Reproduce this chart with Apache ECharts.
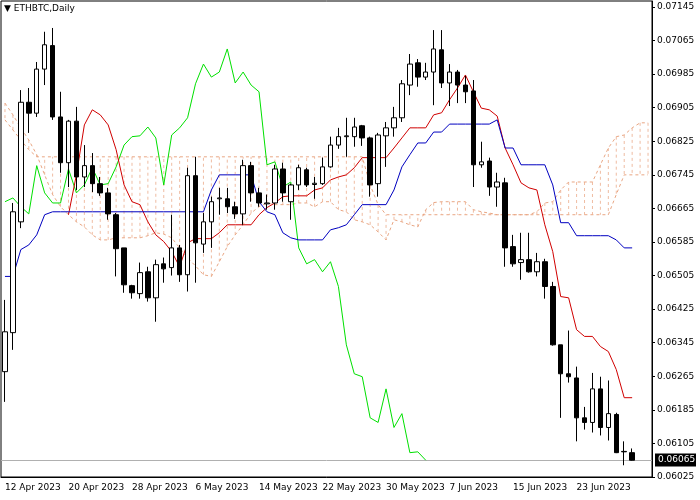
<!DOCTYPE html>
<html>
<head>
<meta charset="utf-8">
<script src="https://cdn.jsdelivr.net/npm/echarts@6/dist/echarts.min.js"></script>
<style>html,body{margin:0;padding:0;background:#fff}#chart{width:700px;height:500px}</style>
</head>
<body>
<div id="chart"></div>
<script>
// Prix en points (x 0.00001)
var opens = [6276,6369,6633,6918,6892,6997,7053,6883,6774,6873,6740,6767,6724,6702,6650,6571,6481,6462,6514,6452,
  6533,6524,6571,6507,6743,6580,6633,6688,6688,6669,6652,6767,6702,6676,6678,6759,6681,6721,6757,6722,
  6724,6764,6816,6836,6836,6862,6833,6724,6838,6857,6881,6959,7012,6978,6990,7043,6964,6990,6959,6945,
  6769,6778,6716,6726,6574,6536,6543,6514,6538,6479,6340,6271,6261,6166,6155,6235,6143,6174,6086,6083];
var closes = [6371,6657,6918,6892,6997,7055,6883,6774,6873,6740,6767,6724,6702,6652,6569,6483,6464,6512,6452,6531,
  6521,6571,6507,6743,6583,6633,6681,6690,6669,6652,6767,6702,6678,6678,6759,6702,6721,6762,6721,6725,
  6764,6816,6836,6838,6859,6833,6721,6840,6857,6881,6962,7009,6978,6990,7045,6964,6990,6959,6943,6769,
  6776,6716,6728,6571,6533,6543,6514,6538,6479,6340,6271,6264,6166,6155,6235,6143,6176,6083,6085,6065];
var lows = [6204,6328,6618,6845,6883,6959,6876,6750,6716,6709,6716,6704,6695,6638,6503,6464,6450,6450,6443,6395,
  6488,6505,6490,6467,6488,6559,6571,6650,6654,6640,6626,6681,6669,6662,6662,6681,6638,6709,6716,6688,
  6721,6762,6807,6788,6812,6814,6693,6693,6764,6836,6871,6935,6955,6971,6911,6952,6909,6916,6916,6716,
  6762,6695,6669,6526,6526,6495,6512,6503,6450,6338,6166,6250,6110,6138,6131,6124,6112,6082,6053,6064];
var highs = [6447,6678,6947,6952,7014,7086,7095,6943,6876,6907,6816,6797,6740,6714,6654,6571,6483,6536,6526,6543,
  6548,6650,6578,6762,6788,6654,6693,6714,6714,6681,6781,6776,6714,6698,6769,6774,6724,6769,6762,6740,
  6786,6836,6857,6881,6881,6864,6836,6845,6871,6907,6971,7033,7021,7012,7090,7090,7009,6995,6981,6971,
  6824,6786,6750,6738,6602,6607,6607,6559,6545,6490,6340,6374,6288,6192,6273,6264,6255,6178,6110,6093];

var tenkan = [null,null,null,null,null,null,null,null,6650,6745,6864,6900,6888,6864,6805,6721,6681,6674,6633,6602,
  6586,6562,6526,6583,6593,6593,6593,6607,6626,6626,6626,6626,6650,6667,6678,6693,6695,6695,6695,6709,
  6714,6733,6740,6745,6762,6786,6786,6786,6786,6809,6833,6857,6857,6857,6888,6893,6924,6952,6983,6943,
  6904,6900,6885,6809,6769,6726,6714,6709,6626,6562,6455,6452,6376,6360,6360,6336,6324,6281,6214,6214];
var kijun = [6503,6503,6567,6578,6602,6650,6657,6657,6657,6657,6657,6657,6657,6657,6657,6657,6657,6657,6657,6657,
  6657,6657,6657,6657,6657,6657,6709,6745,6745,6745,6745,6745,6681,6657,6650,6607,6595,6590,6590,6590,
  6590,6614,6619,6626,6650,6674,6674,6674,6674,6709,6764,6793,6821,6821,6847,6847,6866,6866,6866,6866,
  6866,6866,6876,6809,6809,6769,6769,6769,6769,6721,6631,6631,6600,6600,6600,6600,6600,6590,6571,6571];
var chinkou = [6681,6690,6669,6652,6767,6702,6678,6678,6759,6702,6721,6762,6721,6724,6764,6816,6836,6838,6859,6833,
  6721,6840,6857,6881,6962,7009,6978,6990,7045,6964,6990,6959,6943,6769,6776,6716,6728,6571,6533,6543,
  6514,6538,6479,6340,6271,6264,6166,6155,6235,6143,6176,6083,6085,6065];
var senkouA = [6916,6888,6857,6828,6793,6745,6698,6669,6650,6633,6621,6602,6590,6590,6595,6595,6595,6595,6600,6607,
  6604,6595,6571,6547,6528,6507,6503,6538,6574,6602,6626,6654,6669,6678,6674,6674,6674,6678,6678,6669,
  6681,6681,6662,6657,6638,6633,6626,6609,6590,6638,6633,6626,6621,6662,6679,6681,6681,6681,6681,6662,
  6657,6654,6650,6650,6650,6650,6650,6657,6678,6681,6709,6728,6728,6728,6728,6769,6809,6836,6840,6857,6869,6869];
var senkouB = [6876,6852,6828,6805,6788,6788,6788,6788,6788,6788,6788,6788,6788,6788,6788,6788,6788,6788,6788,6788,
  6788,6788,6788,6788,6788,6788,6788,6788,6788,6788,6788,6788,6788,6788,6788,6788,6788,6788,6788,6788,
  6788,6788,6788,6788,6788,6788,6721,6674,6650,6650,6650,6650,6650,6650,6650,6650,6650,6650,6650,6650,
  6650,6650,6650,6650,6650,6650,6650,6650,6650,6650,6650,6650,6650,6650,6650,6650,6650,6698,6745,6745,6745,6745];
var yTicks = [6025,6105,6185,6265,6345,6425,6505,6585,6665,6745,6825,6905,6985,7065,7145];
var lastPrice = 6065;

var months = ['Jan','Feb','Mar','Apr','May','Jun','Jul'];
var dates = [];
for (var i = 0; i < senkouA.length; i++) {
    var d = new Date(Date.UTC(2023, 3, 12 + i));
    dates.push(d.getUTCDate() + ' ' + months[d.getUTCMonth()] + ' 2023');
}

function px(v) { return v == null ? null : v / 100000; }
var candleData = opens.map(function (o, i) {
    return [px(o), px(closes[i]), px(lows[i]), px(highs[i])];
});
var cloudData = senkouA.map(function (a, i) { return [i, px(a), px(senkouB[i])]; });
var tickValues = yTicks.map(px);
function showDate(i) { return i % 8 === 0 && i < 80; }

var chart = echarts.init(document.getElementById('chart'));
var font = 'DejaVu Sans';
chart.setOption({
    animation: false,
    backgroundColor: '#fff',
    textStyle: { fontFamily: font },
    graphic: [{
        type: 'text', left: 4, top: 4,
        style: { text: '\u25BC ETHBTC,Daily', fontSize: 9, fontFamily: font, fill: '#000' }
    }],
    grid: { left: 1, right: 48, top: 1, bottom: 23, show: true, borderColor: '#000', borderWidth: 1 },
    xAxis: {
        type: 'category',
        data: dates,
        boundaryGap: true,
        axisLine: { lineStyle: { color: '#000' } },
        axisTick: { alignWithLabel: true, interval: showDate, length: 3, lineStyle: { color: '#000' } },
        axisLabel: { interval: showDate, fontSize: 9, color: '#000', align: 'left', margin: 6 },
        splitLine: { show: false }
    },
    yAxis: {
        type: 'value',
        position: 'right',
        min: 0.06025,
        max: 0.071593,
        scale: true,
        axisLine: { show: true, lineStyle: { color: '#000' } },
        axisTick: { show: true, customValues: tickValues, length: 3, lineStyle: { color: '#000' } },
        axisLabel: {
            customValues: tickValues, fontSize: 9, color: '#000', margin: 5,
            formatter: function (v) { return v.toFixed(5); }
        },
        splitLine: { show: false }
    },
    series: [
        {
            name: 'cloud',
            type: 'custom',
            renderItem: function (params, api) {
                var p1 = api.coord([api.value(0), api.value(1)]);
                var p2 = api.coord([api.value(0), api.value(2)]);
                return {
                    type: 'line',
                    shape: { x1: p1[0], y1: p1[1], x2: p2[0], y2: p2[1] },
                    style: { stroke: '#E9A683', lineWidth: 1, lineDash: [3, 3], opacity: 0.75 }
                };
            },
            encode: { x: 0, y: [1, 2] },
            data: cloudData,
            z: 1
        },
        {
            name: 'Senkou A', type: 'line', data: senkouA.map(px), symbol: 'none',
            lineStyle: { color: '#E9A683', width: 1, type: [3, 3] }, z: 1
        },
        {
            name: 'Senkou B', type: 'line', data: senkouB.map(px), symbol: 'none',
            lineStyle: { color: '#E9A683', width: 1, type: [3, 3] }, z: 1
        },
        {
            // ligne du dernier prix + étiquette
            name: 'last', type: 'custom', clip: false, z: 2,
            data: [[0, px(lastPrice)]],
            encode: { x: 0, y: 1 },
            renderItem: function (params, api) {
                var cs = params.coordSys;
                var y = Math.round(api.coord([0, api.value(1)])[1]) + 0.5;
                var txt = px(lastPrice).toFixed(5);
                return {
                    type: 'group',
                    children: [
                        { type: 'line', shape: { x1: cs.x, y1: y, x2: cs.x + cs.width, y2: y },
                          style: { stroke: '#B0B0B0', lineWidth: 1 } },
                        { type: 'rect', shape: { x: cs.x + cs.width + 3, y: y - 7, width: 41, height: 13 },
                          style: { fill: '#000' } },
                        { type: 'text', x: cs.x + cs.width + 6, y: y - 5,
                          style: { text: txt, fill: '#fff', fontSize: 9, fontFamily: font } }
                    ]
                };
            }
        },
        {
            name: 'Chinkou', type: 'line', data: chinkou.map(px), symbol: 'none',
            lineStyle: { color: '#00E000', width: 1 }, z: 2
        },
        {
            name: 'Tenkan', type: 'line', data: tenkan.map(px), symbol: 'none',
            lineStyle: { color: '#D00000', width: 1 }, z: 3
        },
        {
            name: 'Kijun', type: 'line', data: kijun.map(px), symbol: 'none',
            lineStyle: { color: '#0000C0', width: 1 }, z: 3
        },
        {
            name: 'ETHBTC', type: 'candlestick', data: candleData, barWidth: 5, z: 4,
            itemStyle: { color: '#fff', color0: '#000', borderColor: '#000', borderColor0: '#000', borderWidth: 1 }
        }
    ]
});
</script>
</body>
</html>
